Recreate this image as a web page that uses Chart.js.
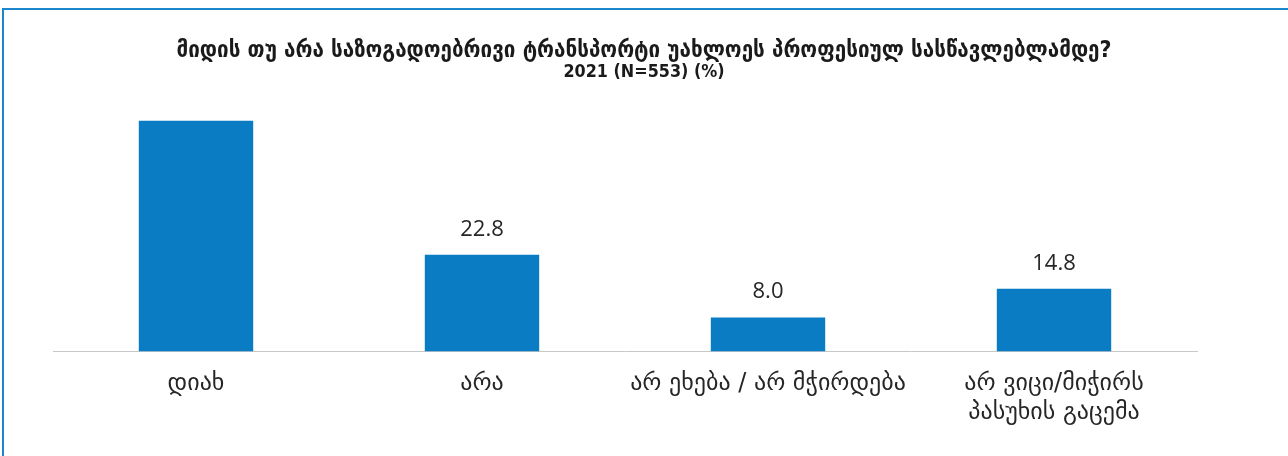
<!DOCTYPE html>
<html>
<head>
<meta charset="utf-8">
<script src="https://cdn.jsdelivr.net/npm/chart.js@4"></script>
<style>
  html, body { margin: 0; padding: 0; background: #fff; }
  .frame {
    position: absolute; left: 2px; top: 8px; width: 1286px; height: 448px;
    border-top: 2px solid #1c87cc; border-left: 2px solid #1c87cc;
    box-sizing: border-box;
  }
  .chart-container { position: absolute; left: 0; top: 0; width: 1288px; height: 456px; }
</style>
</head>
<body>
<div class="frame"></div>
<div class="chart-container"><canvas id="barChart"></canvas></div>
<script>
const titleLines = [
  'მიდის თუ არა საზოგადოებრივი ტრანსპორტი უახლოეს პროფესიულ სასწავლებლამდე?',
  '2021 (N=553) (%)'
];
const categories = [
  'დიახ',
  'არა',
  'არ ეხება / არ მჭირდება',
  ['არ ვიცი/მიჭირს', 'პასუხის გაცემა']
];
const values = [54.4, 22.8, 8.0, 14.8];

const georgianFont = '"DejaVu Sans", "Noto Sans", sans-serif';
const titleFont = '"DejaVu Sans Condensed", "DejaVu Sans", sans-serif';

// title is centred on the whole canvas, not on the plot area
const pageTitle = {
  id: 'pageTitle',
  afterDraw(chart) {
    const ctx = chart.ctx;
    const cx = chart.width / 2;
    ctx.save();
    ctx.fillStyle = '#1a1a1a';
    ctx.textAlign = 'center';
    ctx.textBaseline = 'middle';
    ctx.font = 'bold 23px ' + titleFont;
    ctx.fillText(titleLines[0], cx, 51, 935);
    ctx.font = 'bold 17.8px ' + titleFont;
    ctx.fillText(titleLines[1], cx, 72);
    ctx.restore();
  }
};

// value labels above the bars, clipped to the plot area like the original
const valueLabels = {
  id: 'valueLabels',
  afterDatasetsDraw(chart) {
    const ctx = chart.ctx;
    const area = chart.chartArea;
    const meta = chart.getDatasetMeta(0);
    ctx.save();
    ctx.beginPath();
    ctx.rect(area.left, area.top, area.right - area.left, area.bottom - area.top);
    ctx.clip();
    ctx.font = '22px "Open Sans", sans-serif';
    ctx.fillStyle = '#262626';
    ctx.textAlign = 'center';
    ctx.textBaseline = 'alphabetic';
    meta.data.forEach((bar, i) => {
      ctx.fillText(values[i].toFixed(1), bar.x, bar.y - 19);
    });
    ctx.restore();
  }
};

new Chart(document.getElementById('barChart'), {
  type: 'bar',
  data: {
    labels: categories,
    datasets: [{
      data: values,
      backgroundColor: '#0a7cc4',
      barPercentage: 0.8,
      categoryPercentage: 0.5
    }]
  },
  options: {
    responsive: true,
    maintainAspectRatio: false,
    animation: false,
    layout: { padding: { left: 53, right: 91, top: 103, bottom: 11 } },
    plugins: {
      legend: { display: false },
      tooltip: { enabled: false }
    },
    scales: {
      x: {
        grid: { display: false, drawTicks: false },
        border: { display: true, color: '#c8c8c8', width: 1 },
        ticks: {
          color: '#262626',
          padding: 18,
          maxRotation: 0,
          font: { family: georgianFont, size: 24, lineHeight: 1.2 }
        }
      },
      y: {
        display: false,
        min: 0,
        max: 58.6
      }
    }
  },
  plugins: [valueLabels, pageTitle]
});
</script>
</body>
</html>
